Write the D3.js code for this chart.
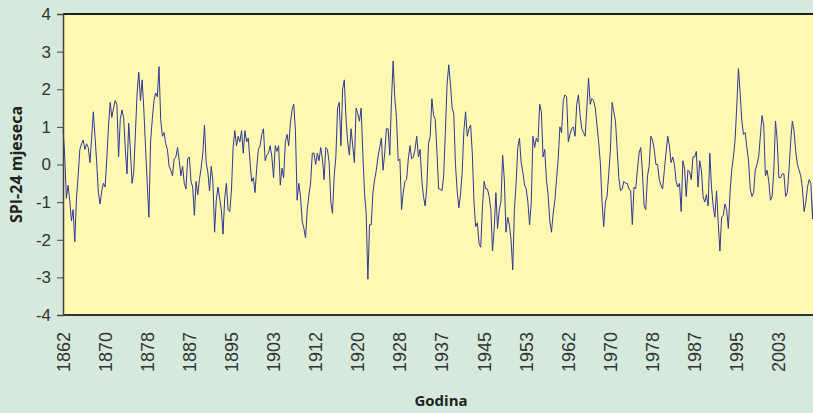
<!DOCTYPE html>
<html lang="en">

<head>
    <meta charset="utf-8">
    <title>SPI-24</title>
    <script src="https://cdnjs.cloudflare.com/ajax/libs/d3/7.8.5/d3.min.js"></script>
    <style>
        body { margin: 0; background: #d5eadd; }
        svg { display: block; }
    </style>
</head>

<body>

    <script type="text/javascript">
    // SPI-24 values, every 4 months from Jan 1862
    var startYear = 1862;
    var stepMonths = 4;
    var spi = [
        0.95, 0.25, -0.9, -0.55, -0.95, -1.5, -1.2, -2.05, -0.9, -0.3,
        0.4, 0.55, 0.65, 0.4, 0.55, 0.45, 0.05, 0.7, 1.4, 0.75,
        0.05, -0.75, -1.05, -0.7, -0.5, -0.6, 0.15, 1.0, 1.65, 1.25,
        1.5, 1.7, 1.6, 0.2, 1.2, 1.45, 1.25, 0.4, -0.25, 1.1,
        0.4, -0.5, -0.2, 0.85, 1.9, 2.45, 1.7, 2.25, 1.45, 0.45,
        -0.5, -1.4, 0.6, 1.2, 1.7, 1.9, 1.8, 2.6, 1.2, 0.75,
        0.85, 0.55, 0.4, -0.05, -0.15, -0.3, 0.15, 0.2, 0.45, 0.1,
        -0.3, -0.05, -0.5, -0.65, 0.15, 0.2,
        -0.45, -0.6, -1.35, -0.45, -0.8, -0.4, -0.1, 0.3, 1.05, 0.05,
        -0.2, -0.7, -0.05, -0.45, -1.8, -0.95, -0.6, -0.9, -1.2, -1.85,
        -0.9, -0.5, -1.2, -1.25, -0.7, 0.45, 0.9, 0.5, 0.75, 0.6,
        0.9, 0.3, 0.9, 0.6, 0.7, 0.1, -0.45, -0.35, -0.75, -0.1,
        0.4, 0.5, 0.8, 0.95, 0.1, 0.25, 0.3, 0.5, 0.2, -0.35,
        0.5, 0.35, 0.5, -0.55, -0.1, -0.35, 0.6, 0.8, 0.5, 1.1,
        1.45, 1.6, 0.9, -0.95, -0.5, -0.85, -1.5, -1.7, -1.95, -1.2,
        -0.8, -0.5, 0.3, 0.3,
        0.0, 0.3, 0.1, 0.45, 0.15, -0.4, 0.45, 0.4, 0.05, -1.0,
        -1.3, -0.3, 0.2, 1.5, 1.65, 0.5, 2.0, 2.25, 1.25, 0.6,
        0.25, 0.95, 0.5, 0.05, 1.5, 1.35, 1.15, 1.5, 0.3, -0.75,
        -1.3, -3.05, -1.6, -1.6, -0.75, -0.4, -0.15, 0.2, 0.45, 0.7,
        -0.15, 0.3, 0.95, 0.95, 0.25, 1.7, 2.75, 1.75, 1.25, 0.1,
        0.15, -1.2, -0.75, -0.45, -0.4, 0.15, 0.5, 0.15, 0.2, 0.4,
        0.75, 0.2, 0.4, -0.4, -0.85, -1.1, -0.6, 0.55, 0.75, 1.75,
        1.3, 1.2, 0.35, -0.65,
        -0.65, -0.7, -0.3, 0.85, 2.1, 2.65, 2.15, 1.5, 1.35, 0.0,
        -0.7, -1.15, -0.8, -0.2, 0.9, 1.4, 0.75, 0.95, 1.05, 0.3,
        -1.0, -1.65, -1.55, -2.1, -2.2, -1.15, -0.45, -0.65, -0.65, -0.85,
        -1.2, -2.3, -1.7, -0.75, -1.7, -1.2, -1.0, 0.25, -0.4, -1.8,
        -1.4, -1.6, -2.0, -2.8, -1.2, -0.5, 0.45, 0.7, 0.05, -0.2,
        -0.55, -0.65, -1.0, -1.6, -1.0, 0.75, 0.45, 0.7, 0.6, 1.6,
        1.4, 0.2, 0.4, -0.4, -0.8, -1.5, -1.8, -1.3, -0.95, -0.4,
        0.15, 1.0, 0.85, 1.7, 1.85,
        1.8, 0.6, 0.8, 0.95, 1.0, 0.75, 1.6, 1.85, 1.3, 0.95,
        0.85, 0.75, 1.5, 2.3, 1.6, 1.75, 1.7, 1.5, 1.05, 0.6,
        0.05, -1.0, -1.65, -1.0, -0.85, -0.25, 0.4, 1.65, 1.4, 1.15,
        0.4, -0.35, -0.7, -0.65, -0.45, -0.5, -0.5, -0.65, -0.7, -1.6,
        -0.6, -0.65, -0.15, 0.3, 0.45, -0.2, -1.1, -1.2, -0.3, -0.05,
        0.75, 0.65, 0.4, 0.0, 0.0, -0.4, -0.55, -0.65, -0.15, 0.3,
        0.75, 0.5, 0.05, 0.2, 0.0, -0.45, -0.6, -0.5, -1.25, 0.1,
        -0.1, -0.85, -0.15, -0.2,
        -0.4, 0.2, 0.2, 0.35, -0.6, 0.1, -0.15, -0.85, -1.0, -0.8,
        -1.1, 0.3, -0.6, -1.1, -1.4, -0.7, -1.55, -2.3, -1.4, -1.35,
        -1.05, -1.2, -1.7, -0.75, -0.15, 0.2, 0.65, 1.55, 2.55, 1.9,
        1.15, 0.8, 0.85, 0.45, 0.1, -0.65, -0.85, -0.75, -0.15, 0.0,
        0.2, 0.75, 1.3, 1.05, -0.3, -0.15, -0.45, -0.95, -0.85, -0.15,
        1.15, 0.65, -0.35, -0.35, -0.25, -0.25, -0.85, -0.75, -0.15, 0.6,
        1.15, 0.9, 0.35, 0.0, -0.15, -0.3, -0.65, -1.25, -1.0, -0.6,
        -0.4, -0.5, -1.45, -0.4
    ];

    // one label every 100 months, as on the category axis
    var labelEvery = 100;
    var yearLabels = ["1862", "1870", "1878", "1887", "1895", "1903", "1912", "1920", "1928",
        "1937", "1945", "1953", "1962", "1970", "1978", "1987", "1995", "2003"];
    var yTicks = [-4, -3, -2, -1, 0, 1, 2, 3, 4];

    var width = 813,
        height = 413;
    var plotLeft = 63, plotTop = 14, plotBottom = 315;
    var monthsShown = 1800;

    var svg = d3.select("body")
        .append("svg")
        .attr("width", width)
        .attr("height", height)
        .style("background", "#d5eadd");

    var x = d3.scaleLinear()
        .domain([0, monthsShown])
        .range([plotLeft, plotLeft + monthsShown * 0.4211]);

    var y = d3.scaleLinear()
        .domain([-4, 4])
        .range([plotBottom, plotTop]);

    svg.append("rect")
        .attr("x", plotLeft)
        .attr("y", plotTop)
        .attr("width", x(monthsShown) - plotLeft)
        .attr("height", plotBottom - plotTop)
        .attr("fill", "#fff8b0");

    var line = d3.line()
        .x(function(d, i) { return x(i * stepMonths); })
        .y(function(d) { return y(d); });

    svg.append("path")
        .datum(spi)
        .attr("d", line)
        .attr("fill", "none")
        .attr("stroke", "#2d3896")
        .attr("stroke-width", 1)
        .attr("stroke-linejoin", "round");

    // frame lines
    svg.append("line")
        .attr("x1", plotLeft).attr("x2", width)
        .attr("y1", plotTop).attr("y2", plotTop)
        .attr("stroke", "#222").attr("stroke-width", 2);
    svg.append("line")
        .attr("x1", plotLeft).attr("x2", width)
        .attr("y1", plotBottom).attr("y2", plotBottom)
        .attr("stroke", "#333").attr("stroke-width", 2);

    var yAxis = svg.append("g")
        .attr("transform", "translate(" + plotLeft + ",0)")
        .call(d3.axisLeft(y).tickValues(yTicks).tickSize(6).tickPadding(6)
            .tickFormat(function(d) { return String(d); }));
    yAxis.select(".domain").attr("stroke", "#444").attr("stroke-width", 1.5);
    yAxis.selectAll(".tick line").attr("stroke", "#444");
    yAxis.selectAll("text")
        .attr("font-family", "'Liberation Sans', Arial, sans-serif")
        .attr("font-size", "17px")
        .attr("fill", "#333");

    svg.append("g")
        .selectAll("text")
        .data(yearLabels)
        .enter()
        .append("text")
        .attr("transform", function(d, i) {
            return "translate(" + (x(i * labelEvery) + 6.5) + "," + 332 + ") rotate(-90)";
        })
        .attr("text-anchor", "end")
        .attr("font-family", "'Liberation Sans', Arial, sans-serif")
        .attr("font-size", "18px")
        .attr("fill", "#333")
        .text(function(d) { return d; });

    svg.append("text")
        .attr("transform", "translate(22," + ((plotTop + plotBottom) / 2) + ") rotate(-90)")
        .attr("text-anchor", "middle")
        .attr("font-family", "'Open Sans', 'Liberation Sans', sans-serif")
        .attr("font-weight", "bold")
        .attr("font-size", "16px")
        .attr("fill", "#222")
        .text("SPI-24 mjeseca");

    svg.append("text")
        .attr("x", 441)
        .attr("y", 406)
        .attr("text-anchor", "middle")
        .attr("font-family", "'Open Sans', 'Liberation Sans', sans-serif")
        .attr("font-weight", "bold")
        .attr("font-size", "15px")
        .attr("fill", "#222")
        .text("Godina");
    </script>

</body>

</html>
